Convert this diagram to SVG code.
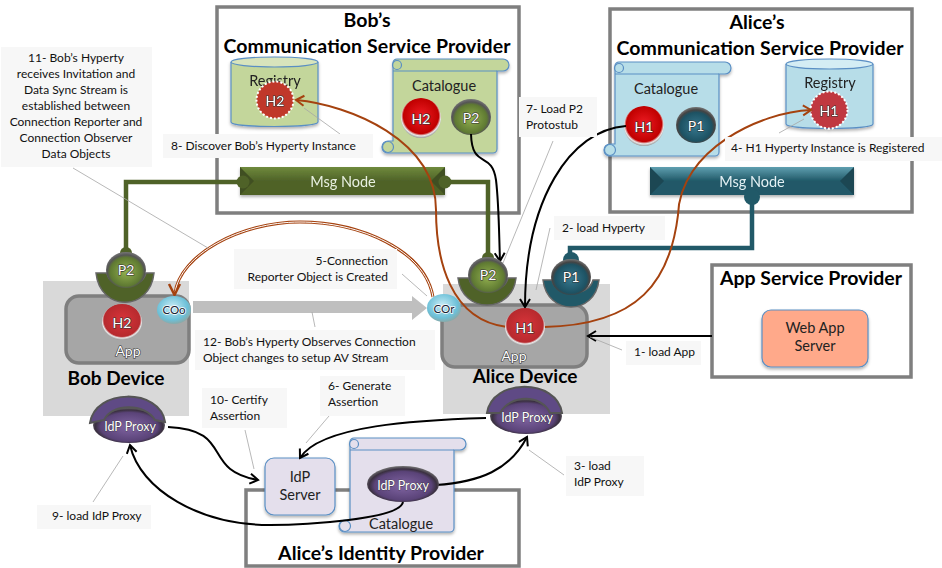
<svg xmlns="http://www.w3.org/2000/svg" width="942" height="568" viewBox="0 0 942 568">
<style>
text{font-family:Lato,"Liberation Sans",sans-serif}
.box{fill:#fff;stroke:#7f7f7f;stroke-width:3.5}
.dev{fill:#d9d9d9}
.app{fill:#a6a6a6;stroke:#7f7f7f;stroke-width:3.5}
.title{font-size:19.5px;font-weight:700;fill:#000;text-anchor:middle}
.dt{font-size:19px;font-weight:700;text-anchor:middle}
.lb{fill:#f7f7f7}
.t{font-size:12px;fill:#111}
.c{text-anchor:middle}
.s{font-size:14.5px;fill:#222;text-anchor:middle}
.w{fill:#fff;text-anchor:middle;font-size:14px;paint-order:stroke;stroke:#333;stroke-width:1.2px}
.k{fill:#123;text-anchor:middle;font-size:11.5px;paint-order:stroke;stroke:#fff;stroke-width:1.5px}
.i{fill:#fff;text-anchor:middle;font-size:12.5px;paint-order:stroke;stroke:#333;stroke-width:.7px}
.leader{fill:none;stroke:#a6a6a6;stroke-width:.8}
.blk{fill:none;stroke:#000;stroke-width:2}
.org{fill:none;stroke:#a5420f;stroke-width:2}
.gl{fill:none;stroke:#4f6228;stroke-width:4.5}
.tl{fill:none;stroke:#215968;stroke-width:4.5}
.gn{fill:#c3d69b;stroke:#5a8fc4;stroke-width:1.2}
.bl{fill:#b7dde8;stroke:#5a8fc4;stroke-width:1.2}
.pu{fill:#e4dfec;stroke:#5a8fc4;stroke-width:1.2}
.arc{fill:#5f4a85;stroke:#555;stroke-width:2}
</style>
<defs>
<radialGradient id="red" cx=".5" cy=".45" r=".55"><stop offset="0" stop-color="#ee1c24"/><stop offset=".8" stop-color="#c00000"/><stop offset=".9" stop-color="#e8e8e8"/><stop offset="1" stop-color="#999"/></radialGradient>
<radialGradient id="red2" cx=".5" cy=".45" r=".55"><stop offset="0" stop-color="#d9343a"/><stop offset=".82" stop-color="#b72a2e"/><stop offset=".9" stop-color="#e8e8e8"/><stop offset="1" stop-color="#999"/></radialGradient>
<radialGradient id="grn" cx=".5" cy=".55" r=".55"><stop offset="0" stop-color="#93b04f"/><stop offset=".72" stop-color="#5f7a32"/><stop offset=".85" stop-color="#555"/><stop offset="1" stop-color="#777"/></radialGradient>
<radialGradient id="tea" cx=".5" cy=".55" r=".55"><stop offset="0" stop-color="#37788f"/><stop offset=".72" stop-color="#1d5263"/><stop offset=".85" stop-color="#444"/><stop offset="1" stop-color="#777"/></radialGradient>
<radialGradient id="pur" cx=".5" cy=".55" r=".55"><stop offset="0" stop-color="#8064a2"/><stop offset=".72" stop-color="#5a4378"/><stop offset=".85" stop-color="#3a3040"/><stop offset="1" stop-color="#777"/></radialGradient>
<radialGradient id="cyn" cx=".45" cy=".4" r=".6"><stop offset="0" stop-color="#c8ecf5"/><stop offset=".75" stop-color="#6cc0d8"/><stop offset="1" stop-color="#8aa"/></radialGradient>
<linearGradient id="mg" x1="0" y1="0" x2="0" y2="1"><stop offset="0" stop-color="#6f8a3c"/><stop offset=".5" stop-color="#4f6228"/><stop offset="1" stop-color="#4f6228"/></linearGradient>
<linearGradient id="mt" x1="0" y1="0" x2="0" y2="1"><stop offset="0" stop-color="#5f9fb0"/><stop offset=".5" stop-color="#215968"/><stop offset="1" stop-color="#215968"/></linearGradient>
<marker id="ab" markerWidth="14" markerHeight="14" refX="10" refY="6" orient="auto" markerUnits="userSpaceOnUse"><path d="M2 1L10 6L2 11" fill="none" stroke="#000" stroke-width="2"/></marker>
<marker id="ao" markerWidth="14" markerHeight="14" refX="10" refY="6" orient="auto" markerUnits="userSpaceOnUse"><path d="M2 1L10 6L2 11" fill="none" stroke="#a5420f" stroke-width="2"/></marker>
<filter id="sh" x="-10%" y="-10%" width="120%" height="130%"><feDropShadow dx="0" dy="2" stdDeviation="1.5" flood-color="#000" flood-opacity=".3"/></filter>
<g id="scroll"><path filter="url(#sh)" d="M11 12V4a4 4 0 0 1 4-4H121a6 6 0 0 1 0 12H115V90a4 4 0 0 1-4 4H6a6 6 0 0 1 0-12H11Z"/><path d="M11 12H115" fill="none"/><circle cx="15" cy="6" r="4.500" fill-opacity=".75"/><circle cx="6" cy="88" r="5.500" fill-opacity=".75"/></g>
</defs>

<g id="bob-csp"><rect class="box" x="217" y="7" width="302" height="206"/>
<text class="title" x="367" y="27">Bob’s</text><text class="title" x="367" y="53" textLength="287" lengthAdjust="spacing">Communication Service Provider</text></g>
<g id="alice-csp"><rect class="box" x="610" y="9" width="302" height="203"/>
<text class="title" x="757" y="29">Alice’s</text><text class="title" x="760" y="55" textLength="287" lengthAdjust="spacing">Communication Service Provider</text></g>
<g id="app-sp"><rect class="box" x="712" y="265" width="199" height="112"/><text class="title" x="811" y="285" textLength="182" lengthAdjust="spacing">App Service Provider</text></g>
<g id="idp-provider"><rect class="box" x="246" y="490" width="273" height="76"/><text class="title" x="381" y="560">Alice’s Identity Provider</text></g>
<g id="bob-device"><rect class="dev" x="43" y="281" width="146" height="135"/><rect class="app" x="66" y="296" width="123" height="67" rx="13"/><text x="116" y="385" class="dt">Bob Device</text></g>
<g id="alice-device"><rect class="dev" x="443" y="284" width="167" height="130"/><rect class="app" x="442" y="305" width="145" height="62" rx="13"/><text x="525" y="383" class="dt">Alice Device</text></g>

<g id="bob-registry" filter="url(#sh)"><path class="gn" d="M231 62V122C231 128 318 128 318 122V62"/><ellipse cx="274.500" cy="62" rx="43.500" ry="5" fill="#d8e4bc" stroke="#5a8fc4" stroke-width="1.200"/><text class="s" x="275" y="86">Registry</text><circle cx="275" cy="100" r="18.500" fill="#c0392b" stroke="#fff" stroke-width="2" stroke-dasharray="2 2"/><text class="w" x="275" y="106">H2</text></g>
<g id="bob-catalogue"><use href="#scroll" class="gn" transform="translate(382,59)"/><text class="s" x="444" y="91">Catalogue</text><circle cx="421" cy="118" r="20" fill="url(#red)"/><text class="w" x="421" y="124">H2</text><ellipse cx="471" cy="117" rx="20" ry="18" fill="url(#grn)"/><text class="w" x="471" y="123">P2</text></g>
<g id="alice-catalogue"><use href="#scroll" class="bl" transform="translate(604,62)"/><text class="s" x="666" y="94">Catalogue</text><circle cx="644" cy="126" r="20" fill="url(#red)"/><text class="w" x="644" y="132">H1</text><ellipse cx="696" cy="125" rx="20" ry="18" fill="url(#tea)"/><text class="w" x="696" y="131">P1</text></g>
<g id="alice-registry" filter="url(#sh)"><path class="bl" d="M786 64V124C786 130 873 130 873 124V64"/><ellipse cx="829.500" cy="64" rx="43.500" ry="5" fill="#d4edf4" stroke="#5a8fc4" stroke-width="1.200"/><text class="s" x="830" y="88">Registry</text><circle cx="829" cy="110" r="18.500" fill="#c0393f" stroke="#fff" stroke-width="2" stroke-dasharray="2 2"/><text class="w" x="829" y="116">H1</text></g>
<g id="bob-msg" filter="url(#sh)"><rect x="240" y="167" width="205" height="28" fill="url(#mg)"/><path d="M240 167l14 14-14 14zM445 167l-14 14 14 14z" fill="#3f4f20"/><text x="343" y="187" fill="#e8f0e0" style="font-size:14.500px;text-anchor:middle">Msg Node</text></g>
<g id="alice-msg" filter="url(#sh)"><rect x="650" y="167" width="204" height="28" fill="url(#mt)"/><path d="M650 167l14 14-14 14zM854 167l-14 14 14 14z" fill="#1a4653"/><text x="752" y="187" fill="#e4f0f4" style="font-size:14.500px;text-anchor:middle">Msg Node</text></g>
<g id="idp-server"><rect x="265" y="458" width="70" height="57" rx="9" class="pu" filter="url(#sh)"/><text class="s" x="300" y="482">IdP</text><text class="s" x="300" y="500">Server</text></g>
<g id="idp-catalogue"><use href="#scroll" class="pu" transform="translate(339,438)"/><text class="s" x="401" y="529">Catalogue</text></g>

<g id="connectors">
<path class="gl" d="M240 182H126V253M445 182H488V258"/><circle cx="243" cy="182" r="6.500" fill="#4f6228"/><circle cx="445" cy="182" r="6.500" fill="#4f6228"/><circle cx="126" cy="253" r="6" fill="#4f6228"/><circle cx="488" cy="258" r="6" fill="#4f6228"/>
<path class="tl" d="M752 195V248H570V262"/><circle cx="752" cy="197" r="8" fill="#215968"/><circle cx="571" cy="260" r="8" fill="#215968"/>
<path d="M193 301H412V296L427 308L412 320V313H193Z" fill="#bfbfbf"/>
<path class="blk" d="M471 134C472 170 492 150 496 180C499 205 499 235 500 261" marker-end="url(#ab)"/>
<path class="blk" d="M626 126C570 130 525 200 525 307" marker-end="url(#ab)"/>
<path class="blk" d="M712 336H588" marker-end="url(#ab)"/>
<path class="blk" d="M168 427C235 430 200 470 258 480" marker-end="url(#ab)"/>
<path class="blk" d="M486 418C420 420 320 425 300 458" marker-end="url(#ab)"/>
<path class="blk" d="M436 485C480 482 510 470 527 437" marker-end="url(#ab)"/>
<path class="blk" d="M403 502C400 520 300 525 270 525C200 525 140 490 130 445" marker-end="url(#ab)"/>
<path class="org" d="M507 327C450 320 436 260 436 210C436 140 350 105 296 100" marker-end="url(#ao)"/>
<path class="org" d="M544 327C640 325 670 280 678 215C680 150 760 112 811 110" marker-end="url(#ao)"/>
<path d="M433 297C425 250 360 222 300 222C240 222 180 255 175 293" fill="none" stroke="#a5420f" stroke-width="3"/><path d="M433 297C425 250 360 222 300 222C240 222 180 255 175 293" fill="none" stroke="#fff" stroke-width="1"/>
<path d="M169 284L174.500 295L180 284" fill="none" stroke="#a5420f" stroke-width="2.500"/>
<path class="leader" d="M73 168L208 248M304 108L340 134M553 141L503 263M550 228L536 290M402 274L427 296M312 312L315 327M245 430L254 469M329 416L306 443M123 456L93 502M529 450L564 475M622 350L590 337M804 119L779 133"/>
</g>

<g id="lbl-11"><rect class="lb" x="1" y="47" width="151" height="120"/><g class="t c"><text x="76" y="62">11- Bob’s Hyperty</text><text x="76" y="78">receives Invitation and</text><text x="76" y="94">Data Sync Stream is</text><text x="76" y="110">established between</text><text x="76" y="126">Connection Reporter and</text><text x="76" y="142">Connection Observer</text><text x="76" y="158">Data Objects</text></g></g>
<g id="lbl-8"><rect class="lb" x="163" y="134" width="210" height="24"/><text class="t" x="171" y="150">8- Discover Bob’s Hyperty Instance</text></g>
<g id="lbl-7"><rect class="lb" x="519" y="97" width="78" height="40"/><text class="t" x="526" y="113">7- Load P2</text><text class="t" x="526" y="129">Protostub</text></g>
<g id="lbl-4"><rect class="lb" x="725" y="137" width="217" height="24"/><text class="t" x="731" y="152">4- H1 Hyperty Instance is Registered</text></g>
<g id="lbl-2"><rect class="lb" x="554" y="216" width="111" height="24"/><text class="t" x="562" y="232">2- load Hyperty</text></g>
<g id="lbl-5"><rect class="lb" x="234" y="249" width="163" height="40"/><text class="t" x="388" y="265" text-anchor="end">5-Connection</text><text class="t" x="388" y="281" text-anchor="end">Reporter Object is Created</text></g>
<g id="lbl-12"><rect class="lb" x="195" y="330" width="240" height="40"/><text class="t" x="203" y="346">12- Bob’s Hyperty Observes Connection</text><text class="t" x="203" y="362">Object changes to setup AV Stream</text></g>
<g id="lbl-1"><rect class="lb" x="626" y="341" width="75" height="24"/><text class="t" x="634" y="356">1- load App</text></g>
<g id="lbl-6"><rect class="lb" x="320" y="376" width="85" height="40"/><text class="t" x="328" y="390">6- Generate</text><text class="t" x="328" y="406">Assertion</text></g>
<g id="lbl-10"><rect class="lb" x="202" y="388" width="85" height="40"/><text class="t" x="210" y="404">10- Certify</text><text class="t" x="210" y="420">Assertion</text></g>
<g id="lbl-9"><rect class="lb" x="37" y="505" width="114" height="24"/><text class="t" x="52" y="520">9- load IdP Proxy</text></g>
<g id="lbl-3"><rect class="lb" x="566" y="456" width="78" height="40"/><text class="t" x="574" y="470">3- load</text><text class="t" x="574" y="486">IdP Proxy</text></g>

<g id="web-app"><rect x="762" y="310" width="106" height="57" rx="9" fill="#ffa98a" stroke="#5a8fc4" stroke-width="1.200" filter="url(#sh)"/><text class="s" x="815" y="333">Web App</text><text class="s" x="815" y="351">Server</text></g>
<g id="p2-bob"><path d="M96 273H107C110 290 142 290 146 273H154C150 312 100 312 96 273Z" fill="#4f6228" stroke="#666" stroke-width="1.500"/><ellipse cx="126" cy="270" rx="20" ry="18" fill="url(#grn)"/><text class="w" x="126" y="275">P2</text></g>
<g id="p2-alice"><path d="M458 278H469C472 295 504 295 508 278H516C512 314 462 314 458 278Z" fill="#4f6228" stroke="#666" stroke-width="1.500"/><ellipse cx="488" cy="275" rx="20" ry="18" fill="url(#grn)"/><text class="w" x="488" y="280">P2</text></g>
<g id="p1-alice"><path d="M543 280H554C557 297 589 297 593 280H599C595 316 547 316 543 280Z" fill="#215968" stroke="#666" stroke-width="1.500"/><ellipse cx="571" cy="277" rx="20" ry="18" fill="url(#tea)"/><text class="w" x="571" y="282">P1</text></g>
<g id="h2-bob"><ellipse cx="122" cy="322" rx="20" ry="18" fill="url(#red2)"/><text class="w" x="122" y="328">H2</text><text x="128" y="356" class="w">App</text></g>
<g id="h1-alice"><ellipse cx="525" cy="327" rx="20" ry="19" fill="url(#red2)"/><text class="w" x="525" y="333">H1</text><text x="514" y="361" class="w">App</text></g>
<g id="coo"><ellipse cx="174" cy="310" rx="17" ry="14" fill="url(#cyn)"/><text class="k" x="174" y="314">COo</text></g>
<g id="cor"><ellipse cx="444" cy="308" rx="17" ry="14" fill="url(#cyn)"/><text class="k" x="444" y="313">COr</text></g>
<g id="idp-proxy-cat"><ellipse cx="403" cy="484" rx="36" ry="18" fill="url(#pur)"/><text class="i" x="403" y="490">IdP Proxy</text></g>
<g id="idp-proxy-bob"><ellipse cx="129" cy="425" rx="36" ry="18" fill="url(#pur)"/><path class="arc" d="M90 423C95 388 160 388 165 422L155 420C145 403 112 403 104 420Z"/><text class="i" x="130" y="431">IdP Proxy</text></g>
<g id="idp-proxy-alice"><ellipse cx="526" cy="416" rx="36" ry="18" fill="url(#pur)"/><path class="arc" d="M487 413C492 378 557 378 562 413L550 413C542 394 510 394 500 413Z"/><text class="i" x="527" y="422">IdP Proxy</text></g>
</svg>
